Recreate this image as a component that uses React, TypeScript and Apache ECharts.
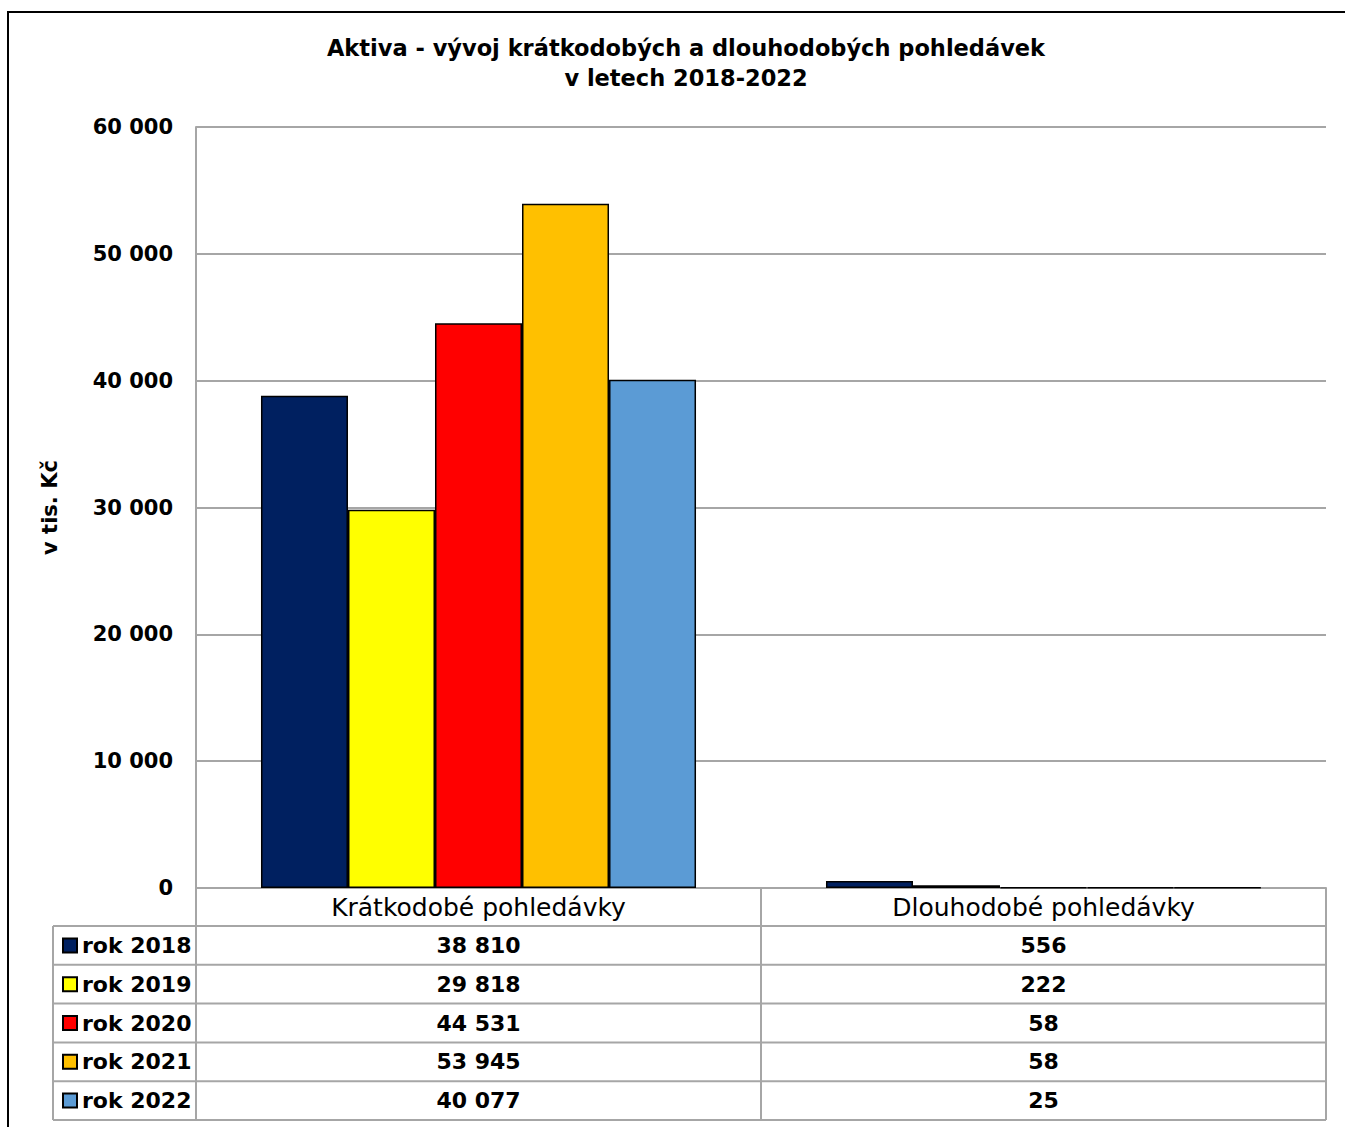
import React, { useEffect, useRef } from "react";
import * as echarts from "echarts";

const categories = ["Krátkodobé pohledávky", "Dlouhodobé pohledávky"];
const years = ["rok 2018", "rok 2019", "rok 2020", "rok 2021", "rok 2022"];
const values2018 = [38810, 556];
const values2019 = [29818, 222];
const values2020 = [44531, 58];
const values2021 = [53945, 58];
const values2022 = [40077, 25];
const seriesValues = [values2018, values2019, values2020, values2021, values2022];
const colors = ["#002060", "#FFFF00", "#FF0000", "#FFC000", "#5B9BD5"];
const yMax = 60000;
const yInterval = 10000;
const titleText = "Aktiva - vývoj krátkodobých a dlouhodobých pohledávek\nv letech 2018-2022";
const yAxisName = "v tis. Kč";

const FONT = "DejaVu Sans";
const GRID_LEFT = 196;
const GRID_RIGHT_X = 1326;
const GRID_TOP = 127;
const AXIS_Y = 888;
const HEADER_H = 38;
const ROW_H = 38.8;
const TABLE_LEFT = 53;
const GRAY = "#a6a6a6";

const fmt = (v: number) => String(v).replace(/\B(?=(\d{3})+(?!\d))/g, " ");

export default function App() {
  const ref = useRef<HTMLDivElement>(null);
  useEffect(() => {
    if (!ref.current) return;
    const chart = echarts.init(ref.current, null, { renderer: "svg" });
    const W = 1345;
    const H = 1127;
    const rowsTop = AXIS_Y + HEADER_H;
    const tableBottom = rowsTop + ROW_H * years.length;

    const valueAxes = seriesValues.map((vals, i) => ({
      type: "category",
      data: categories,
      position: "bottom",
      offset: HEADER_H + ROW_H * i,
      axisLine: { show: false },
      axisTick: { show: false },
      axisLabel: {
        interval: 0,
        margin: ROW_H / 2,
        verticalAlign: "middle",
        fontFamily: FONT,
        fontSize: 22,
        fontWeight: "bold",
        color: "#000",
        formatter: (_: string, idx: number) => fmt(vals[idx]),
      },
    }));

    const hLines: any[] = [];
    for (let i = 0; i <= years.length; i++) {
      const y = rowsTop + ROW_H * i;
      hLines.push({
        type: "line",
        shape: { x1: TABLE_LEFT, y1: y, x2: GRID_RIGHT_X, y2: y },
        style: { stroke: GRAY, lineWidth: 2 },
        silent: true,
      });
    }
    hLines.push({
      type: "line",
      shape: { x1: TABLE_LEFT, y1: rowsTop, x2: TABLE_LEFT, y2: tableBottom },
      style: { stroke: GRAY, lineWidth: 2 },
      silent: true,
    });

    chart.setOption({
      animation: false,
      backgroundColor: "#fff",
      title: {
        text: titleText,
        left: 681,
        top: 28,
        textAlign: "center",
        textStyle: {
          fontFamily: FONT,
          fontSize: 22.5,
          fontWeight: "bold",
          color: "#000",
          lineHeight: 30,
          align: "center",
        },
      },
      legend: {
        data: years,
        orient: "vertical",
        left: 62,
        top: rowsTop,
        itemWidth: 14,
        itemHeight: 14,
        itemGap: 0,
        icon: "rect",
        padding: 0,
        textStyle: {
          fontFamily: FONT,
          fontSize: 22,
          fontWeight: "bold",
          color: "#000",
          lineHeight: ROW_H,
        },
        selectedMode: false,
      },
      grid: {
        left: GRID_LEFT,
        right: W - GRID_RIGHT_X,
        top: GRID_TOP,
        bottom: H - AXIS_Y,
        containLabel: false,
      },
      xAxis: [
        {
          type: "category",
          data: categories,
          position: "bottom",
          axisLine: { show: true, lineStyle: { color: GRAY, width: 2 } },
          axisTick: {
            show: true,
            interval: 0,
            length: tableBottom - AXIS_Y,
            lineStyle: { color: GRAY, width: 2 },
          },
          axisLabel: {
            interval: 0,
            margin: HEADER_H / 2,
            verticalAlign: "middle",
            fontFamily: FONT,
            fontSize: 25,
            color: "#000",
          },
        },
        ...valueAxes,
      ],
      yAxis: {
        type: "value",
        min: 0,
        max: yMax,
        interval: yInterval,
        name: yAxisName,
        nameLocation: "middle",
        nameRotate: 90,
        nameGap: 136,
        nameTextStyle: {
          fontFamily: FONT,
          fontSize: 21,
          fontWeight: "bold",
          color: "#000",
        },
        axisLine: { show: true, lineStyle: { color: GRAY, width: 2 } },
        axisTick: { show: false },
        splitLine: { show: true, lineStyle: { color: GRAY, width: 2 } },
        axisLabel: {
          margin: 23,
          fontFamily: FONT,
          fontSize: 21,
          fontWeight: "bold",
          color: "#000",
          formatter: (v: number) => fmt(v),
        },
      },
      series: seriesValues.map((vals, i) => ({
        type: "bar",
        name: years[i],
        data: vals,
        xAxisIndex: 0,
        barGap: "0%",
        barCategoryGap: "23%",
        itemStyle: { color: colors[i], borderColor: "#000", borderWidth: 1.5 },
      })),
      graphic: [
        {
          type: "rect",
          shape: { x: 8, y: 12, width: 1400, height: 1200 },
          style: { fill: "none", stroke: "#000", lineWidth: 2 },
          silent: true,
          z: 100,
        },
        ...hLines,
      ],
    });
    return () => chart.dispose();
  }, []);
  return (
    <div
      ref={ref}
      style={{ position: "fixed", left: 0, top: 0, width: 1345, height: 1127, background: "#fff" }}
    />
  );
}
